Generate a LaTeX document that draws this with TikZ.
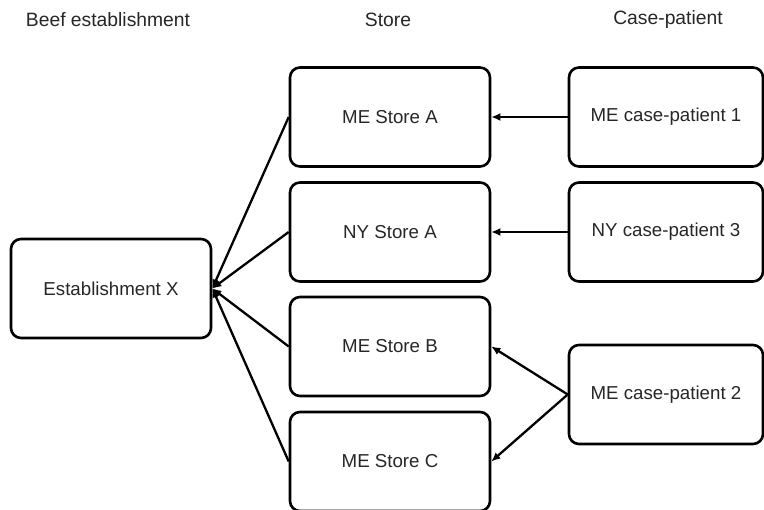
\documentclass[tikz,border=0pt]{standalone}
\usepackage{fontspec}
\setmainfont{Liberation Sans}
\usetikzlibrary{arrows.meta}
\definecolor{txt}{HTML}{262626}
\begin{document}
\begin{tikzpicture}[x=1pt,y=-1pt,
  box/.style={draw=black,line width=2.6pt,rounded corners=10pt,minimum width=#1,minimum height=99pt,inner sep=0pt,text=txt,font=\fontsize{18.7}{22}\selectfont},
  box/.default=200pt,
  head/.style={text=txt,font=\fontsize{19.3}{22}\selectfont,inner sep=0pt},
  conn/.style={line width=2.3pt,-{Latex[length=9pt,width=8pt]}}]
\useasboundingbox (0,0) rectangle (764,510);
\node[head] (h1) at (108,20) {Beef establishment};
\node[head] (h2) at (388,20) {Store};
\node[head] (h3) at (668,20) {Case-patient};

\node[box] (est) at (111,288.5) {Establishment X};
\node[box] (sA) at (390,117) {ME Store A};
\node[box] (nA) at (390,232) {NY Store A};
\node[box] (sB) at (390,346.5) {ME Store B};
\node[box] (sC) at (390,461.5) {ME Store C};
\node[box=194pt] (c1) at (666,117) {ME case-patient 1};
\node[box=194pt] (c3) at (666,232) {NY case-patient 3};
\node[box=194pt] (c2) at (666,394.5) {ME case-patient 2};

\foreach \s in {sA,nA,sB,sC} \draw[conn] (\s.west) -- (est.east);
\draw[conn] (c1.west) -- (sA.east);
\draw[conn] (c3.west) -- (nA.east);
\draw[conn] (c2.west) -- (sB.east);
\draw[conn] (c2.west) -- (sC.east);
\end{tikzpicture}
\end{document}
